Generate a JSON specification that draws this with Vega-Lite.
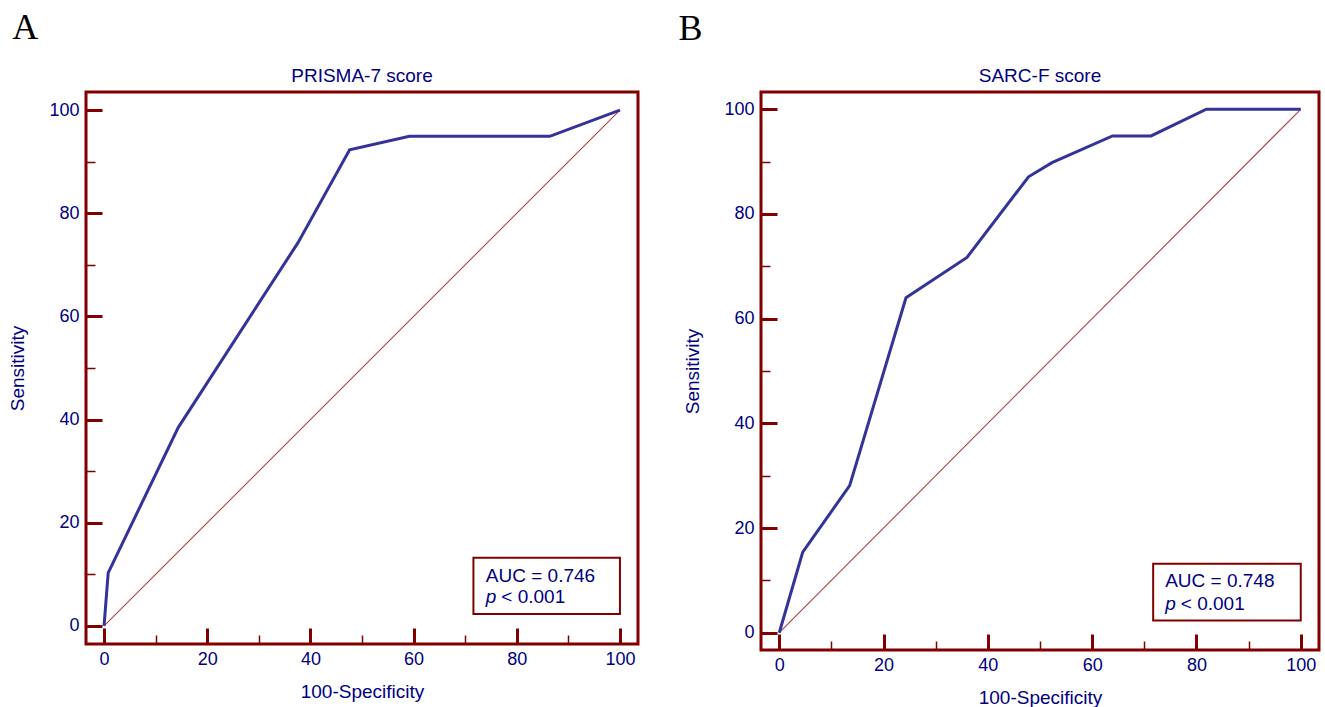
{
  "$schema": "https://vega.github.io/schema/vega-lite/v6.json",
  "background": "white",
  "padding": {"left": 7, "top": 8, "right": 2, "bottom": 0},
  "spacing": 37,
  "config": {
    "font": "Liberation Sans",
    "view": {"stroke": "#800000", "strokeWidth": 3},
    "axis": {
      "values": [0, 5, 10, 15, 20, 25, 30, 35, 40, 45, 50, 55, 60, 65, 70, 75, 80, 85, 90, 95, 100],
      "labelExpr": "datum.value % 20 === 0 ? datum.label : ''",
      "tickSize": {"condition": {"test": "datum.value % 20 === 0", "value": -16}, "value": -9},
      "tickWidth": {"condition": {"test": "datum.value % 20 === 0", "value": 3}, "value": 1.5},
      "tickColor": "#800000",
      "domain": false,
      "grid": false,
      "labelColor": "#000080",
      "labelFontSize": 18,
      "labelFlush": false,
      "labelOverlap": false,
      "titleColor": "#000080",
      "titleFontSize": 19,
      "titleFontWeight": "normal"
    },
    "axisX": {"titlePadding": 7, "labelPadding": 22},
    "axisY": {"titlePadding": 21, "labelPadding": 23}
  },
  "datasets": {
    "rocA": [
      {"fpr": 0, "sens": 0},
      {"fpr": 0.8, "sens": 10.3},
      {"fpr": 14.4, "sens": 38.5},
      {"fpr": 37.6, "sens": 74.3},
      {"fpr": 47.6, "sens": 92.3},
      {"fpr": 59.2, "sens": 94.9},
      {"fpr": 86.4, "sens": 94.9},
      {"fpr": 100, "sens": 100}
    ],
    "rocB": [
      {"fpr": 0, "sens": 0},
      {"fpr": 4.5, "sens": 15.4},
      {"fpr": 13.5, "sens": 28.1},
      {"fpr": 24.3, "sens": 64.0},
      {"fpr": 36.0, "sens": 71.7},
      {"fpr": 47.8, "sens": 87.1},
      {"fpr": 52.3, "sens": 89.8},
      {"fpr": 63.9, "sens": 94.9},
      {"fpr": 71.3, "sens": 94.9},
      {"fpr": 81.9, "sens": 100},
      {"fpr": 100, "sens": 100}
    ],
    "diag": [
      {"fpr": 0, "sens": 0},
      {"fpr": 100, "sens": 100}
    ],
    "statsA": [{"panel": "A", "name": "PRISMA-7 score", "auc": "AUC = 0.746", "p": "p", "pval": "< 0.001"}],
    "statsB": [{"panel": "B", "name": "SARC-F score", "auc": "AUC = 0.748", "p": "p", "pval": "< 0.001"}]
  },
  "hconcat": [
    {
      "width": 552,
      "height": 552,
      "layer": [
        {
          "data": {"name": "diag"},
          "mark": {"type": "line", "color": "#b04040", "strokeWidth": 1.1},
          "encoding": {
            "x": {"field": "fpr", "type": "quantitative", "title": "100-Specificity", "scale": {"domain": [-3.5, 103.5], "nice": false, "zero": false}},
            "y": {"field": "sens", "type": "quantitative", "title": "Sensitivity", "scale": {"domain": [-3.5, 103.5], "nice": false, "zero": false}}
          }
        },
        {
          "data": {"name": "rocA"},
          "mark": {"type": "line", "color": "#333399", "strokeWidth": 3},
          "encoding": {
            "x": {"field": "fpr", "type": "quantitative", "title": "100-Specificity"},
            "y": {"field": "sens", "type": "quantitative", "title": "Sensitivity"}
          }
        },
        {
          "data": {"name": "statsA"},
          "layer": [
            {
              "mark": {"type": "rect", "fill": "white", "stroke": "#800000", "strokeWidth": 2},
              "encoding": {"x": {"datum": 71.6}, "x2": {"datum": 100}, "y": {"datum": 2.3}, "y2": {"datum": 13.2}}
            },
            {
              "mark": {"type": "text", "align": "left", "baseline": "alphabetic", "fontSize": 19, "color": "#000080"},
              "encoding": {"x": {"datum": 74}, "y": {"datum": 8.6}, "text": {"field": "auc"}}
            },
            {
              "mark": {"type": "text", "align": "left", "baseline": "alphabetic", "fontSize": 19, "fontStyle": "italic", "color": "#000080"},
              "encoding": {"x": {"datum": 74}, "y": {"datum": 4.5}, "text": {"field": "p"}}
            },
            {
              "mark": {"type": "text", "align": "left", "baseline": "alphabetic", "fontSize": 19, "color": "#000080"},
              "encoding": {"x": {"datum": 77}, "y": {"datum": 4.5}, "text": {"field": "pval"}}
            },
            {
              "mark": {"type": "text", "align": "center", "baseline": "alphabetic", "fontSize": 19, "color": "#000080"},
              "encoding": {"x": {"datum": 50}, "y": {"datum": 105.4}, "text": {"field": "name"}}
            },
            {
              "mark": {"type": "text", "align": "left", "baseline": "alphabetic", "fontSize": 36, "font": "Liberation Serif", "color": "black"},
              "encoding": {"x": {"datum": -17.8}, "y": {"datum": 113.7}, "text": {"field": "panel"}}
            }
          ]
        }
      ]
    },
    {
      "width": 558,
      "height": 558,
      "layer": [
        {
          "data": {"name": "diag"},
          "mark": {"type": "line", "color": "#b04040", "strokeWidth": 1.1},
          "encoding": {
            "x": {"field": "fpr", "type": "quantitative", "title": "100-Specificity", "scale": {"domain": [-3.5, 103.5], "nice": false, "zero": false}},
            "y": {"field": "sens", "type": "quantitative", "title": "Sensitivity", "scale": {"domain": [-3.3, 103.3], "nice": false, "zero": false}}
          }
        },
        {
          "data": {"name": "rocB"},
          "mark": {"type": "line", "color": "#333399", "strokeWidth": 3},
          "encoding": {
            "x": {"field": "fpr", "type": "quantitative", "title": "100-Specificity"},
            "y": {"field": "sens", "type": "quantitative", "title": "Sensitivity"}
          }
        },
        {
          "data": {"name": "statsB"},
          "layer": [
            {
              "mark": {"type": "rect", "fill": "white", "stroke": "#800000", "strokeWidth": 2},
              "encoding": {"x": {"datum": 71.7}, "x2": {"datum": 100}, "y": {"datum": 2.35}, "y2": {"datum": 13.2}}
            },
            {
              "mark": {"type": "text", "align": "left", "baseline": "alphabetic", "fontSize": 19, "color": "#000080"},
              "encoding": {"x": {"datum": 74}, "y": {"datum": 8.7}, "text": {"field": "auc"}}
            },
            {
              "mark": {"type": "text", "align": "left", "baseline": "alphabetic", "fontSize": 19, "fontStyle": "italic", "color": "#000080"},
              "encoding": {"x": {"datum": 74}, "y": {"datum": 4.4}, "text": {"field": "p"}}
            },
            {
              "mark": {"type": "text", "align": "left", "baseline": "alphabetic", "fontSize": 19, "color": "#000080"},
              "encoding": {"x": {"datum": 77}, "y": {"datum": 4.4}, "text": {"field": "pval"}}
            },
            {
              "mark": {"type": "text", "align": "center", "baseline": "alphabetic", "fontSize": 19, "color": "#000080"},
              "encoding": {"x": {"datum": 50}, "y": {"datum": 105.2}, "text": {"field": "name"}}
            },
            {
              "mark": {"type": "text", "align": "left", "baseline": "alphabetic", "fontSize": 36, "font": "Liberation Serif", "color": "black"},
              "encoding": {"x": {"datum": -19.3}, "y": {"datum": 113.2}, "text": {"field": "panel"}}
            }
          ]
        }
      ]
    }
  ]
}
